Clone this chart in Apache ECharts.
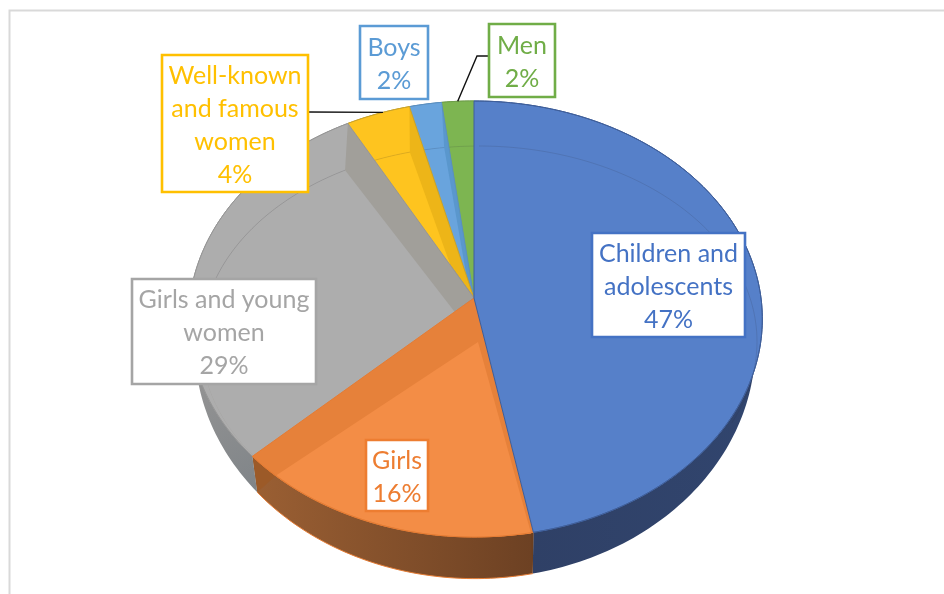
<!DOCTYPE html>
<html>
<head>
<meta charset="utf-8">
<style>html,body{margin:0;padding:0;background:#fff}#chart{width:944px;height:594px}</style>
<script src="https://cdn.jsdelivr.net/npm/echarts@6/dist/echarts.min.js"></script>
</head>
<body>
<div id="chart"></div>
<script>
// Share of each group, in percent, clockwise from twelve o'clock.
const categories = ['Children and\nadolescents', 'Girls', 'Girls and young\nwomen', 'Well-known\nand famous\nwomen', 'Boys', 'Men'];
const shares = [47, 16, 29, 4, 2, 2];

// Slice appearance.
const topColors = ['#5680c9', '#f38d46', '#adadad', '#fec41f', '#69a4dd', '#7db551'];
const wedgeColors = ['#5680c9', '#e6813a', '#a19f9a', '#edb518', '#5a97cd', '#7db551'];
const edgeColors = ['#3f5f9b', '#e57c34', '#969696', '#c9a22a', '#5a8fc0', '#6f9e4a'];
const textColors = ['#4472c4', '#ed7d31', '#a5a5a5', '#ffc000', '#5b9bd5', '#70ad47'];

// Callout boxes: left, top, right, bottom.
const boxes = [
  [592, 233, 745, 337], [366, 440, 428, 511], [132, 279, 316, 384],
  [162, 55, 308, 192], [360, 26, 428, 99], [489, 24, 555, 97]
];

// Perspective model of the disc: near edge is larger than the far edge.
const TILT = 0.0963;
const upper = { x: 474, y: 298, rxR: 287, rxL: 284, ry: 216 };
const lower = { x: 475, y: 323, rxR: 279, rxL: 279, ry: 231 };
const facet = { x: 478, y: 342, cx: 479, cy: 341.5, rx: 278, ry: 195.5 };

const total = shares.reduce((a, b) => a + b, 0);
const startOf = i => shares.slice(0, i).reduce((a, b) => a + b, 0) / total * 2 * Math.PI;
const endOf = i => startOf(i + 1);

function onDisc(d, t) {
  const u = Math.sin(t), v = Math.cos(t), w = 1 + TILT * v;
  return [d.x + (u >= 0 ? d.rxR : d.rxL) * u / w, d.y - d.ry * v / w];
}
const onFacet = t => [facet.cx + facet.rx * Math.sin(t), facet.cy - facet.ry * Math.cos(t)];
function arc(fn, a, b) {
  const n = Math.max(2, Math.ceil(Math.abs(b - a) / 0.02)), pts = [];
  for (let k = 0; k <= n; k++) pts.push(fn(a + (b - a) * k / n));
  return pts;
}
const onUpper = t => onDisc(upper, t);
const onLower = t => onDisc(lower, t);
const poly = (points, fill, stroke) => ({
  type: 'polygon', silent: true, shape: { points },
  style: { fill, stroke: stroke || null, lineWidth: stroke ? 1 : 0 }
});
const line = (points, stroke, lineWidth) => ({
  type: 'polyline', silent: true, shape: { points }, style: { stroke, lineWidth, fill: null }
});
const grad = (x, y, x2, y2, c0, c1) => ({
  type: 'linear', global: true, x, y, x2, y2,
  colorStops: [{ offset: 0, color: c0 }, { offset: 1, color: c1 }]
});

// Outer wall of the disc, one piece per slice.
const wallFills = [
  grad(530, 0, 760, 0, '#2f4066', '#31456e'),
  grad(257, 0, 531, 0, '#9a5f33', '#6d4123'),
  grad(195, 380, 257, 497, '#939393', '#7f8488'),
  '#999', '#999', '#999'
];
function renderWall(params, api) {
  const i = params.dataIndex, a = startOf(i), b = endOf(i);
  const children = [poly(arc(onUpper, a, b).concat(arc(onLower, b, a)), wallFills[i])];
  if (i === 1) {
    // Dark ends where the orange wedge meets its neighbours.
    children.push(poly([onFacet(a), onUpper(a), onLower(a)], '#6b3f20'));
    children.push(poly([onFacet(b), onUpper(b), onLower(b)], '#9c5a28'));
    children.push(line(arc(onLower, a, b), '#e57c34', 1));
  }
  return { type: 'group', children };
}

// Upper face: wedge from the hub, then a recessed facet and the rim band.
// Faces are painted last slice first, so each wedge covers the next one's hub.
function renderFace(params, api) {
  const i = shares.length - 1 - params.dataIndex, a = startOf(i), b = endOf(i);
  const children = [];
  const wedge = [[upper.x, upper.y]].concat(arc(onUpper, a, b));
  children.push(poly(wedge, wedgeColors[i], edgeColors[i]));
  if (i > 0) {
    children.push(poly([[facet.x, facet.y]].concat(arc(onFacet, a, b)), topColors[i]));
    if (i !== 1) {
      children.push(poly(arc(onUpper, a, b).concat(arc(onFacet, b, a)), topColors[i]));
    }
  }
  // The inner crease fades out on the near side of the disc.
  if (i !== 1) {
    const from = i === 2 ? 4.6 : a;
    const to = i === 0 ? Math.min(b, 2.0) : b;
    children.push(line(arc(onFacet, from, to), 'rgba(40,40,60,0.14)', 1));
  }
  children.push(line(arc(onUpper, a, b), edgeColors[i], 1));
  return { type: 'group', children };
}

// Callouts, with leader lines for the two narrow top slices.
function renderLabel(params, api) {
  const i = params.dataIndex, [l, t, r, bt] = boxes[i];
  const children = [];
  const mid = (startOf(i) + endOf(i)) / 2;
  if (i === 3) children.push(line([[r, 112], onUpper(mid + 0.02)], '#111', 1.4));
  if (i === 5) children.push(line([[l, 56], [477, 56], onUpper(mid)], '#111', 1.4));
  children.push({
    type: 'rect', silent: true, shape: { x: l, y: t, width: r - l, height: bt - t },
    style: { fill: '#fff', stroke: textColors[i], lineWidth: 2.6 }
  });
  children.push({
    type: 'text', silent: true, x: (l + r) / 2, y: (t + bt) / 2 + 1.5,
    style: {
      text: categories[i] + '\n' + api.value(0) + '%',
      fill: textColors[i], font: '400 25px Lato, "Open Sans", sans-serif',
      align: 'center', verticalAlign: 'middle', lineHeight: 33
    }
  });
  return { type: 'group', children };
}

const chart = echarts.init(document.getElementById('chart'), null, { renderer: 'canvas' });
chart.setOption({
  animation: false,
  backgroundColor: '#ffffff',
  graphic: [
    { type: 'polyline', silent: true, shape: { points: [[9.5, 594], [9.5, 10.5], [944, 10.5]] }, style: { stroke: '#d9d9d9', lineWidth: 2, fill: null } }
  ],
  series: [
    { type: 'custom', coordinateSystem: 'none', silent: true, z: 2, data: shares, renderItem: renderWall },
    { type: 'custom', coordinateSystem: 'none', silent: true, z: 3, data: shares.slice().reverse(), renderItem: renderFace },
    { type: 'custom', coordinateSystem: 'none', silent: true, z: 4, data: shares, renderItem: renderLabel }
  ]
});
</script>
</body>
</html>
